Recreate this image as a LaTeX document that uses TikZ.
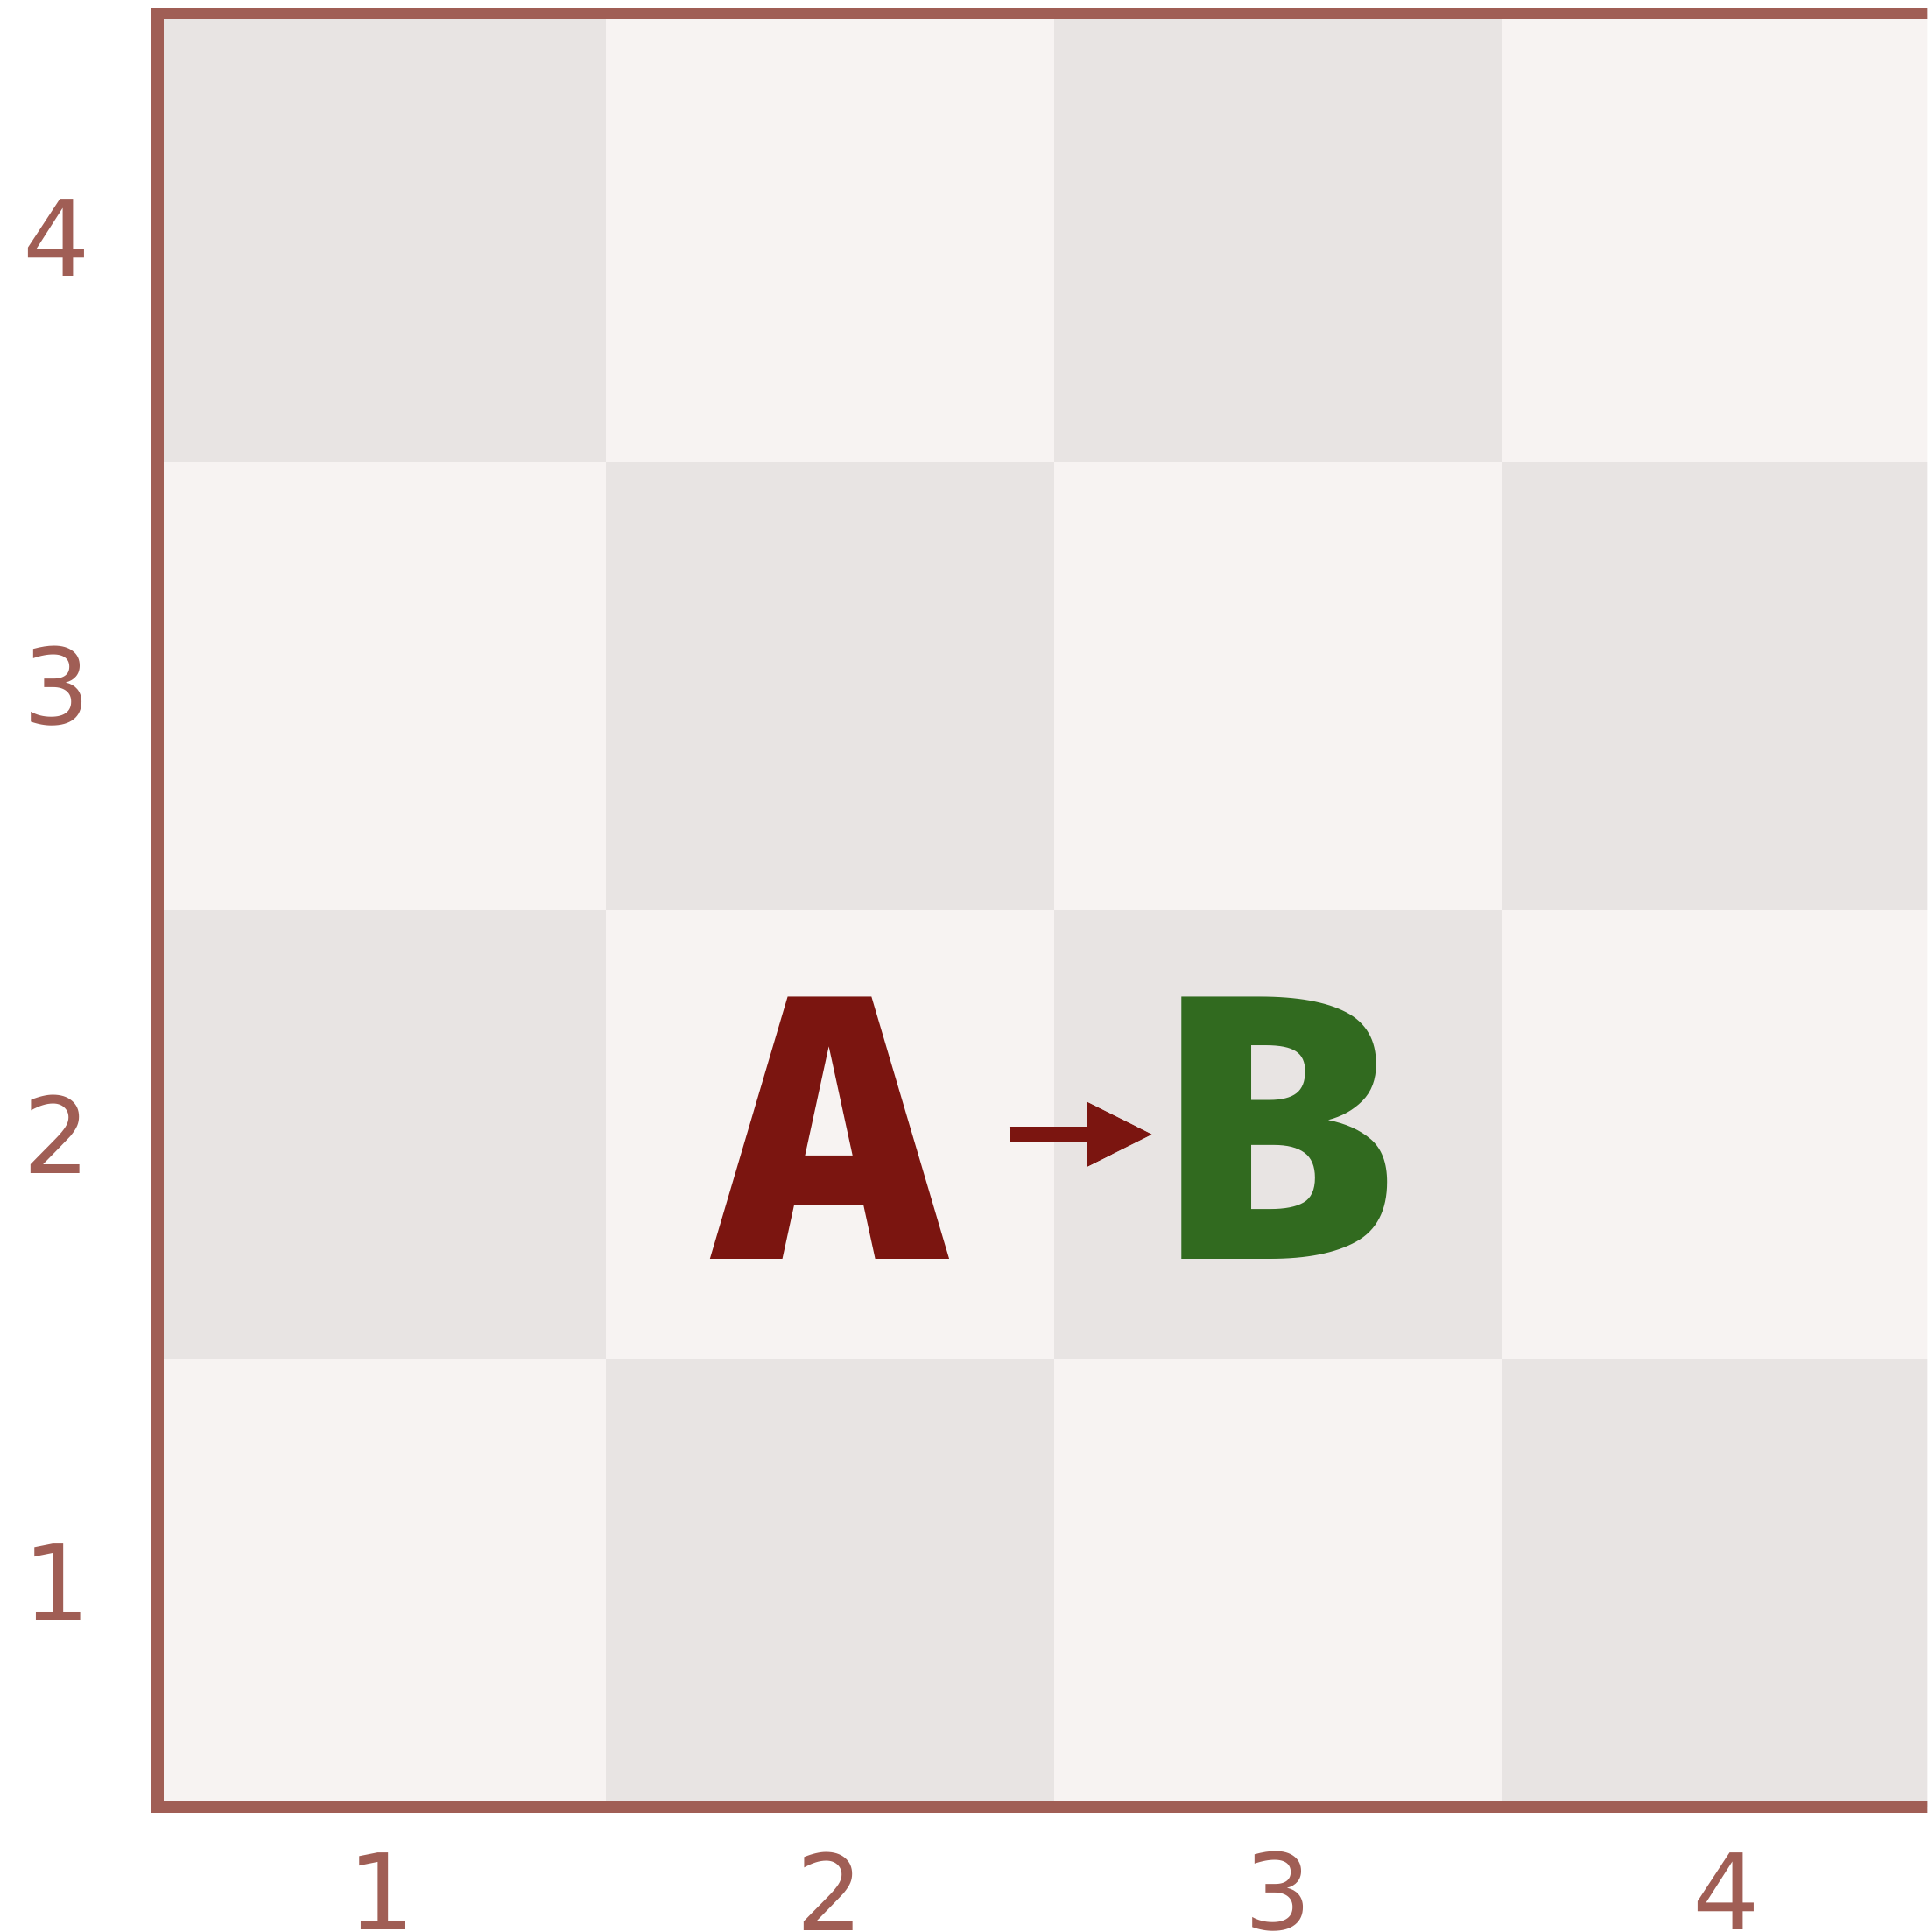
\documentclass[tikz,border=0pt]{standalone}
\usepackage{fontspec}
\usetikzlibrary{arrows.meta, positioning}
\newfontfamily\coordfont{DejaVu Sans}
\newfontfamily\piecefont{Fira Sans ExtraBold}
\definecolor{boardframe}{RGB}{160,94,85}
\definecolor{darksq}{RGB}{232,228,227}
\definecolor{lightsq}{RGB}{247,243,242}
\definecolor{pieceA}{RGB}{123,21,16}
\definecolor{pieceB}{RGB}{49,106,31}

\begin{document}
\begin{tikzpicture}[
    >=Stealth,
    coord/.style = {font=\coordfont\fontsize{13.4}{16}\selectfont, text=boardframe, inner sep=0pt},
    piece/.style = {font=\piecefont\fontsize{47.9}{48}\selectfont, inner sep=0pt, anchor=base,
                    text height=1.16cm, text depth=0.046cm},
    move/.style  = {-{Triangle[length=8.4pt,width=7.6pt]}, line width=2pt, pieceA},
]
\useasboundingbox (-0.703,-0.559) rectangle (7.895,8.061);
\clip (-0.703,-0.559) rectangle (7.895,8.061);

% ---- board squares ----------------------------------------------------------
\foreach \c in {1,...,4}
  \foreach \r in {1,...,4} {
    \ifodd\numexpr\c+\r\relax \def\sqfill{darksq}\else \def\sqfill{lightsq}\fi
    \fill[\sqfill] ({2*\c-2},{2*\r-2}) rectangle ++(2,2);
  }
\draw[boardframe, line width=1.5pt] (0,0) rectangle (8,8);

% ---- coordinates ------------------------------------------------------------
\foreach \r in {1,...,4}
  \node[coord] (row\r) at (-0.449,{2*\r-1}) {\r};
\foreach \c in {1,...,4}
  \node[coord] (col\c) at ({2*\c-1},-0.377) {\c};

% ---- pieces and move ----------------------------------------------------------
\node[piece, text=pieceA] (A) at (3,2.443) {A};
\node[piece, text=pieceB] (B) at (5,2.443) {B};
\draw[move, shorten <=0.29cm, shorten >=0.03cm] (A.east) -- (B.west);
\end{tikzpicture}
\end{document}
